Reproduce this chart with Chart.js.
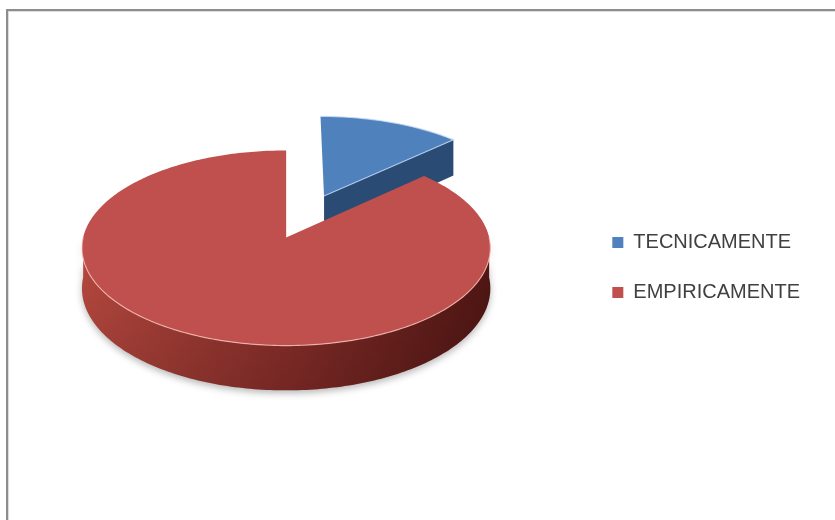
<!DOCTYPE html>
<html>
<head>
<meta charset="utf-8">
<script src="https://cdn.jsdelivr.net/npm/chart.js@4.4.1/dist/chart.umd.min.js"></script>
<style>
  html, body { margin: 0; padding: 0; background: #fff; }
  body { width: 835px; height: 520px; position: relative; overflow: hidden; }
  #frame {
    position: absolute; left: 6px; top: 9px; width: 860px; height: 540px;
    border: 2px solid #8d8d8d; box-shadow: inset 1px 1px 0 #dcdcdc;
  }
  #pie { position: absolute; left: 0; top: 0; }
</style>
</head>
<body>
<div id="frame"></div>
<canvas id="pie" width="835" height="520"></canvas>
<script>
const categories = ['TECNICAMENTE', 'EMPIRICAMENTE'];
const shares = [13, 87];
const topColors = ['#4f81bd', '#c0504d'];
const explode = [100, 0];

// colours of the walls and cut faces, one entry per slice
const sideShades = [
  { wallL: '#3e6aa0', wallM: '#2d5183', wallR: '#1f3a5c', face: '#2a4b74', rim: 'rgba(200,220,250,0.75)' },
  { wallL: '#b8493f', wallM: '#8a2e2a', wallR: '#521714', face: '#8e302c', rim: 'rgba(255,205,200,0.7)' }
];

// tilt = vertical squash, persp = perspective strength, depth = wall height,
// lift / shiftX = where the top face sits relative to the box centre
const view = { tilt: 0.475, persp: 0.1076, depth: 40, lift: 30, shiftX: -5 };

// Draws the pie as a tilted disc, using the arc geometry Chart.js computed
const pie3d = {
  id: 'pie3d',
  beforeDatasetDraw(chart, args) {
    const ctx = chart.ctx;
    const arcs = args.meta.data;
    if (!arcs.length) return false;
    const R = arcs[0].outerRadius;
    const cx = arcs[0].x + view.shiftX;
    const cy = arcs[0].y - view.lift;

    const proj = (u, v, h) => {
      const s = 1 / (1 - view.persp * v / R);
      return [cx + u * s, cy + (view.tilt * v + h) * s];
    };

    const slices = arcs.map((arc, i) => {
      const a0 = arc.startAngle, a1 = arc.endAngle;
      const mid = (a0 + a1) / 2;
      const off = arc.options.offset || 0;
      return { i, a0, a1, mid, ox: Math.cos(mid) * off, oy: Math.sin(mid) * off };
    });
    // back slices first
    slices.sort((p, q) => Math.sin(p.mid) - Math.sin(q.mid));

    const rim = (sl, a, h) => proj(sl.ox + R * Math.cos(a), sl.oy + R * Math.sin(a), h);
    const hub = (sl, h) => proj(sl.ox, sl.oy, h);
    const steps = (lo, hi) => Math.max(2, Math.ceil((hi - lo) / (Math.PI / 180)));

    const face = (sl, a, shade) => {
      const p = [hub(sl, 0), rim(sl, a, 0), rim(sl, a, view.depth), hub(sl, view.depth)];
      ctx.beginPath();
      p.forEach((q, k) => k ? ctx.lineTo(q[0], q[1]) : ctx.moveTo(q[0], q[1]));
      ctx.closePath();
      ctx.fillStyle = shade.face;
      ctx.fill();
    };

    ctx.save();
    slices.forEach(sl => {
      const shade = sideShades[sl.i];

      // cut faces that turn toward the viewer
      if (Math.cos(sl.a0) < -1e-6) face(sl, sl.a0, shade);
      if (Math.cos(sl.a1) > 1e-6) face(sl, sl.a1, shade);

      // outer wall on the front half
      const lo = Math.max(sl.a0, 0), hi = Math.min(sl.a1, Math.PI);
      if (hi > lo) {
        const n = steps(lo, hi);
        ctx.beginPath();
        for (let k = 0; k <= n; k++) {
          const p = rim(sl, lo + (hi - lo) * k / n, 0);
          k ? ctx.lineTo(p[0], p[1]) : ctx.moveTo(p[0], p[1]);
        }
        for (let k = n; k >= 0; k--) {
          const p = rim(sl, lo + (hi - lo) * k / n, view.depth);
          ctx.lineTo(p[0], p[1]);
        }
        ctx.closePath();
        const g = ctx.createLinearGradient(cx - R, 0, cx + R, 0);
        g.addColorStop(0, shade.wallL);
        g.addColorStop(0.5, shade.wallM);
        g.addColorStop(1, shade.wallR);
        ctx.save();
        ctx.shadowColor = 'rgba(0,0,0,0.28)';
        ctx.shadowBlur = 7;
        ctx.shadowOffsetY = 3;
        ctx.fillStyle = g;
        ctx.fill();
        ctx.restore();
        const v = ctx.createLinearGradient(0, cy, 0, cy + view.tilt * R / (1 - view.persp) + view.depth * 1.15);
        v.addColorStop(0, 'rgba(0,0,0,0)');
        v.addColorStop(1, 'rgba(0,0,0,0.16)');
        ctx.fillStyle = v;
        ctx.fill();
      }

      // top face
      const n = steps(sl.a0, sl.a1);
      const c0 = hub(sl, 0);
      ctx.beginPath();
      ctx.moveTo(c0[0], c0[1]);
      for (let k = 0; k <= n; k++) {
        const p = rim(sl, sl.a0 + (sl.a1 - sl.a0) * k / n, 0);
        ctx.lineTo(p[0], p[1]);
      }
      ctx.closePath();
      ctx.fillStyle = topColors[sl.i];
      ctx.fill();

      // light bevel line along the edge
      ctx.strokeStyle = shade.rim;
      ctx.lineWidth = 1.2;
      ctx.beginPath();
      const from = sl.i === 0 ? sl.a0 : lo;
      const to = sl.i === 0 ? sl.a1 : hi;
      const m = steps(from, to);
      for (let k = 0; k <= m; k++) {
        const p = rim(sl, from + (to - from) * k / m, 0);
        k ? ctx.lineTo(p[0], p[1]) : ctx.moveTo(p[0], p[1]);
      }
      if (sl.i === 0) ctx.lineTo(c0[0], c0[1]);
      ctx.stroke();
    });
    ctx.restore();
    return false;
  }
};

new Chart(document.getElementById('pie'), {
  type: 'pie',
  data: {
    labels: categories,
    datasets: [{
      data: shares,
      backgroundColor: topColors,
      borderWidth: 0,
      offset: explode,
      radius: 203
    }]
  },
  options: {
    responsive: false,
    animation: false,
    devicePixelRatio: 1,
    events: [],
    layout: { padding: { left: 0, right: 25, top: 15, bottom: 0 } },
    plugins: {
      tooltip: { enabled: false },
      legend: {
        position: 'right',
        labels: {
          boxWidth: 11,
          boxHeight: 11,
          padding: 30,
          color: '#404040',
          font: { family: "'Liberation Sans', Arial, sans-serif", size: 20 }
        }
      }
    }
  },
  plugins: [pie3d]
});
</script>
</body>
</html>
